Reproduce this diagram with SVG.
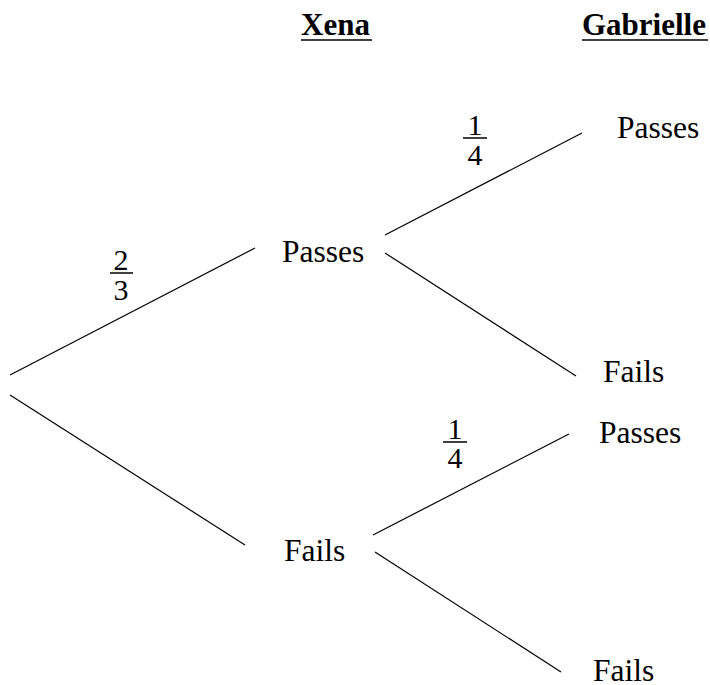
<svg xmlns="http://www.w3.org/2000/svg" width="710" height="685" viewBox="0 0 710 685">
  <style>
    .head, .lbl, .frac { font-family: "Liberation Serif", "Times New Roman", serif !important; fill: #000; }
    .head { font-size: 31px; font-weight: bold; }
    .lbl { font-size: 31.5px; }
    .frac { font-size: 30px; text-anchor: middle; }
    .edge { stroke: #000; stroke-width: 1.2; fill: none; }
    .bar { stroke: #000; stroke-width: 1.5; }
  </style>

  <!-- column headings -->
  <g id="heading-xena">
    <text class="head" x="301" y="35" font-family="Liberation Serif">Xena</text>
    <line class="bar" x1="301" y1="40" x2="372" y2="40"/>
  </g>
  <g id="heading-gabrielle">
    <text class="head" x="582" y="35" font-family="Liberation Serif">Gabrielle</text>
    <line class="bar" x1="582" y1="40" x2="708" y2="40"/>
  </g>

  <!-- branches -->
  <g id="connectors">
    <line class="edge" x1="10" y1="375" x2="255" y2="248"/>
    <line class="edge" x1="10" y1="395" x2="245" y2="545"/>
    <line class="edge" x1="385" y1="235" x2="582" y2="133"/>
    <line class="edge" x1="385" y1="253" x2="576" y2="376"/>
    <line class="edge" x1="373" y1="535" x2="569" y2="434"/>
    <line class="edge" x1="375" y1="552" x2="561" y2="672"/>
  </g>

  <!-- probabilities -->
  <g id="prob-xena-pass">
    <text class="frac" x="121" y="270" font-family="Liberation Serif">2</text>
    <line class="bar" x1="110" y1="273" x2="133" y2="273"/>
    <text class="frac" x="121" y="300" font-family="Liberation Serif">3</text>
  </g>
  <g id="prob-gab-pass-1">
    <text class="frac" x="475" y="135" font-family="Liberation Serif">1</text>
    <line class="bar" x1="463" y1="138" x2="487" y2="138"/>
    <text class="frac" x="475" y="165" font-family="Liberation Serif">4</text>
  </g>
  <g id="prob-gab-pass-2">
    <text class="frac" x="455" y="439" font-family="Liberation Serif">1</text>
    <line class="bar" x1="443" y1="442" x2="467" y2="442"/>
    <text class="frac" x="455" y="468" font-family="Liberation Serif">4</text>
  </g>

  <!-- outcome nodes -->
  <g id="xena-passes"><text class="lbl" x="282" y="262" font-family="Liberation Serif">Passes</text></g>
  <g id="xena-fails"><text class="lbl" x="284" y="561" font-family="Liberation Serif">Fails</text></g>
  <g id="gab-passes-1"><text class="lbl" x="617" y="138" font-family="Liberation Serif">Passes</text></g>
  <g id="gab-fails-1"><text class="lbl" x="603" y="382" font-family="Liberation Serif">Fails</text></g>
  <g id="gab-passes-2"><text class="lbl" x="599" y="443" font-family="Liberation Serif">Passes</text></g>
  <g id="gab-fails-2"><text class="lbl" x="593" y="681" font-family="Liberation Serif">Fails</text></g>
</svg>
